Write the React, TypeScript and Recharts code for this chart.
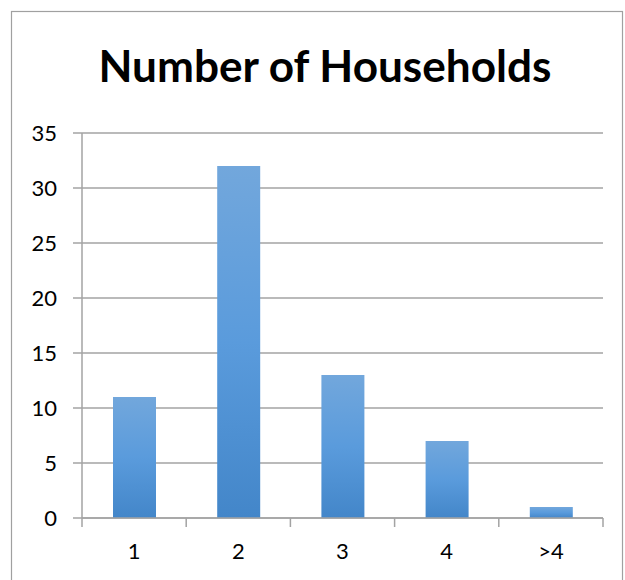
import React from 'react';
import { BarChart, Bar, XAxis, YAxis, CartesianGrid } from 'recharts';

const categories = ['1', '2', '3', '4', '>4'];
const households = [11, 32, 13, 7, 1];
const yTicks = [0, 5, 10, 15, 20, 25, 30, 35];
const title = 'Number of Households';

const data = categories.map((c, i) => ({ name: c, value: households[i] }));

const GRAY = '#a3a3a3';
const FONT = 'Lato, "Noto Sans", sans-serif';
const LABEL_SIZE = 22;

const XTick = (props: any) => {
  const { x, y, payload, index, visibleTicksCount } = props;
  const half = payload.offset || 0;
  const axisY = y - 25;
  const isLast = index === visibleTicksCount - 1;
  return (
    <g>
      <line x1={x - half} x2={x - half} y1={axisY} y2={axisY + 9} stroke={GRAY} strokeWidth={1.5} />
      {isLast && (
        <line x1={x + half} x2={x + half} y1={axisY} y2={axisY + 9} stroke={GRAY} strokeWidth={1.5} />
      )}
      <text x={x} y={y} dy="0.71em" textAnchor="middle" fill="#000" fontSize={LABEL_SIZE} fontFamily={FONT}>
        {payload.value}
      </text>
    </g>
  );
};

export default function App() {
  return (
    <div style={{ position: 'absolute', left: 0, top: 0, width: 625, height: 580, background: '#fff' }}>
      <svg width={625} height={580} style={{ position: 'absolute', left: 0, top: 0 }}>
        <rect x={11.5} y={11.5} width={611} height={600} fill="none" stroke="#a0a0a0" strokeWidth={1.2} />
        <text
          x={325}
          y={82}
          textAnchor="middle"
          fontFamily={FONT}
          fontWeight={700}
          fontSize={43}
          fill="#000"
          textLength={453}
          lengthAdjust="spacingAndGlyphs"
        >
          {title}
        </text>
      </svg>
      <div style={{ position: 'absolute', left: 0, top: 0 }}>
        <BarChart
          width={625}
          height={580}
          data={data}
          margin={{ top: 133, right: 22, bottom: 22, left: 0 }}
        >
          <defs>
            <linearGradient id="barGrad" x1="0" y1="0" x2="0" y2="1">
              <stop offset="0%" stopColor="#72a7dc" />
              <stop offset="50%" stopColor="#5a9bdc" />
              <stop offset="100%" stopColor="#4386c9" />
            </linearGradient>
          </defs>
          <CartesianGrid vertical={false} stroke={GRAY} strokeWidth={1.5} />
          <XAxis
            dataKey="name"
            height={40}
            tickSize={9}
            tickMargin={16}
            tickLine={false}
            axisLine={{ stroke: GRAY, strokeWidth: 1.5 }}
            tick={<XTick />}
            interval={0}
          />
          <YAxis
            width={82}
            domain={[0, 35]}
            ticks={yTicks}
            tickSize={9}
            tickMargin={16}
            axisLine={{ stroke: GRAY, strokeWidth: 1.5 }}
            tickLine={{ stroke: GRAY, strokeWidth: 1.5 }}
            tick={{ fill: '#000', fontSize: LABEL_SIZE, fontFamily: FONT }}
            interval={0}
          />
          <Bar dataKey="value" fill="url(#barGrad)" barSize={43} isAnimationActive={false} />
        </BarChart>
      </div>
    </div>
  );
}
